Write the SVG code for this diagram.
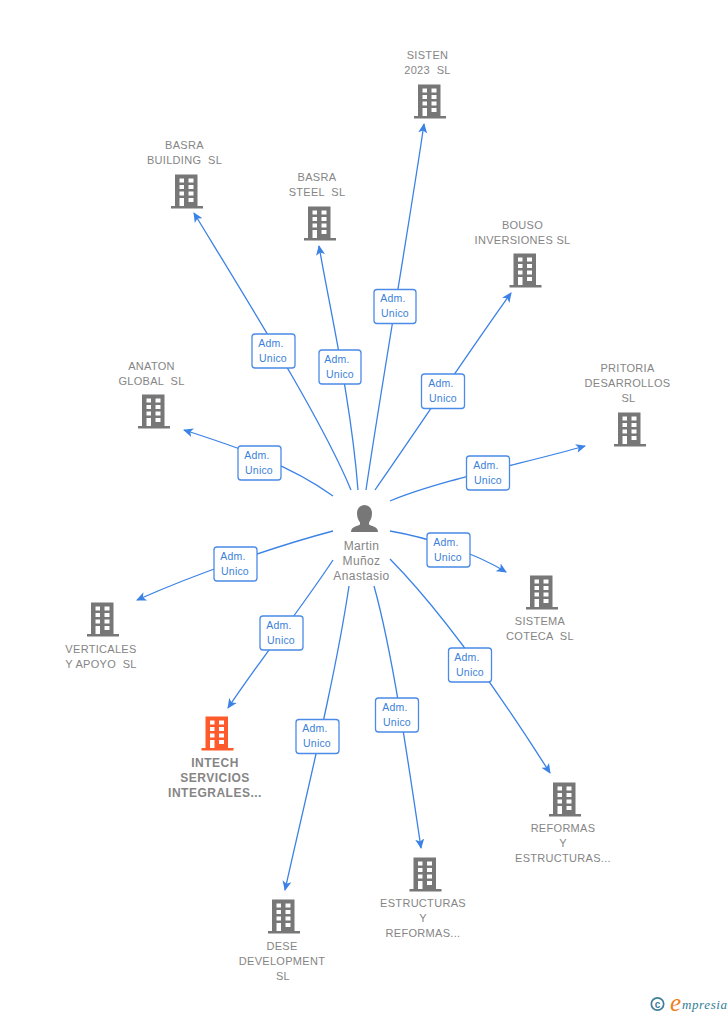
<svg xmlns="http://www.w3.org/2000/svg" width="728" height="1015" viewBox="0 0 728 1015">
<style>
text{font-family:"Liberation Sans",Arial,sans-serif;white-space:pre}
.n{font-size:11px;fill:#858585;text-anchor:middle;letter-spacing:.3px}
.b{font-weight:bold;font-size:12px;letter-spacing:.5px}
.p{font-size:12px;letter-spacing:.4px}
.c{fill:none;stroke:#3b82e6;stroke-width:1.3}
.a{fill:#3b82e6}
.l{fill:#fff;stroke:#4a8ae8;stroke-width:1.3}
.t{font-size:10.500px;fill:#3b7fd9;text-anchor:middle;letter-spacing:.2px}
</style>
<defs>
<symbol id="bld" viewBox="0 0 32 36" width="32" height="36" overflow="visible">
<path fill-rule="evenodd" fill="currentColor" d="M4 .5H26.500V32H32V34.500H0V32H4ZM8.500 4.500V8.500H13V4.500ZM17.500 4.500V8.500H22.500V4.500ZM8.500 11V15H13V11ZM17.500 11V15H22.500V11ZM8.500 17.500V21.500H13V17.500ZM17.500 17.500V21.500H22.500V17.500ZM8.500 24V32H13V24ZM17.500 24V28H22.500V24Z"/>
</symbol>
<marker id="ah" markerUnits="userSpaceOnUse" viewBox="0 0 10 10" refX="9" refY="5" markerWidth="10" markerHeight="10" orient="auto"><path class="a" d="M0 .5L10 5L0 9.500L2.500 5Z"/></marker>
</defs>
<g id="connectors">
<path class="c" marker-end="url(#ah)" d="M366 490C380 395 410 220 424 124"/>
<path class="c" marker-end="url(#ah)" d="M358 490C351 400 330 310 319 246"/>
<path class="c" marker-end="url(#ah)" d="M351 490C322 420 250 305 194 213"/>
<path class="c" marker-end="url(#ah)" d="M375 490C410 440 470 350 511 293"/>
<path class="c" marker-end="url(#ah)" d="M390 501C440 480 530 462 585 446"/>
<path class="c" marker-end="url(#ah)" d="M333 496C290 465 240 448 184 430"/>
<path class="c" marker-end="url(#ah)" d="M333 531C280 545 200 572 137 600"/>
<path class="c" marker-end="url(#ah)" d="M390 531C430 538 475 553 506 572"/>
<path class="c" marker-end="url(#ah)" d="M333 560C300 610 260 660 228 708"/>
<path class="c" marker-end="url(#ah)" d="M390 559C450 620 510 710 550 773"/>
<path class="c" marker-end="url(#ah)" d="M374 586C392 650 408 760 421 848"/>
<path class="c" marker-end="url(#ah)" d="M349 586C335 680 305 800 285 890"/>
</g>
<g id="label-sisten"><rect class="l" x="374" y="289.500" width="42" height="34" rx="3"/><text class="t" x="393" y="302">Adm.</text><text class="t" x="395" y="317">Unico</text></g>
<g id="label-basra-building"><rect class="l" x="252" y="334" width="43" height="34" rx="3"/><text class="t" x="271" y="347">Adm.</text><text class="t" x="273" y="362">Unico</text></g>
<g id="label-basra-steel"><rect class="l" x="319" y="350" width="42" height="34" rx="3"/><text class="t" x="337" y="363">Adm.</text><text class="t" x="340" y="378">Unico</text></g>
<g id="label-bouso"><rect class="l" x="421.500" y="374" width="43" height="34.500" rx="3"/><text class="t" x="441" y="387">Adm.</text><text class="t" x="443" y="402">Unico</text></g>
<g id="label-pritoria"><rect class="l" x="466.500" y="456" width="43" height="34" rx="3"/><text class="t" x="486" y="469">Adm.</text><text class="t" x="488" y="484">Unico</text></g>
<g id="label-anaton"><rect class="l" x="238" y="446" width="43" height="34" rx="3"/><text class="t" x="257" y="459">Adm.</text><text class="t" x="259" y="474">Unico</text></g>
<g id="label-verticales"><rect class="l" x="214" y="547" width="43" height="34" rx="3"/><text class="t" x="233" y="560">Adm.</text><text class="t" x="235" y="575">Unico</text></g>
<g id="label-sistema"><rect class="l" x="427" y="533" width="43" height="34" rx="3"/><text class="t" x="446" y="546">Adm.</text><text class="t" x="448" y="561">Unico</text></g>
<g id="label-intech"><rect class="l" x="260" y="616" width="43" height="34" rx="3"/><text class="t" x="279" y="629">Adm.</text><text class="t" x="281" y="644">Unico</text></g>
<g id="label-reformas"><rect class="l" x="448.500" y="648" width="43" height="34" rx="3"/><text class="t" x="467" y="661">Adm.</text><text class="t" x="470" y="676">Unico</text></g>
<g id="label-estructuras"><rect class="l" x="375.500" y="698" width="43" height="34" rx="3"/><text class="t" x="395" y="711">Adm.</text><text class="t" x="397" y="726">Unico</text></g>
<g id="label-dese"><rect class="l" x="296" y="719.500" width="43" height="34" rx="3"/><text class="t" x="315" y="732">Adm.</text><text class="t" x="317" y="747">Unico</text></g>
<g id="person"><path fill="#777" d="M364.500 505C369.500 505 372 509 372 513.500C372 517.500 370.500 520.500 369 522.500L369 524.500C372 526.500 378 526.500 378 532H351C351 526.500 357 526.500 360 524.500L360 522.500C358.500 520.500 357 517.500 357 513.500C357 509 359.500 505 364.500 505Z"/><text class="n p" x="361.500" y="550">Martin</text><text class="n p" x="361.500" y="565">Muñoz</text><text class="n p" x="361.500" y="580">Anastasio</text></g>
<g id="sisten" color="#777"><use href="#bld" x="414" y="84"/><text class="n" x="427.500" y="59">SISTEN</text><text class="n" x="427.500" y="74">2023  SL</text></g>
<g id="basra-building" color="#777"><use href="#bld" x="171" y="174"/><text class="n" x="184.500" y="149">BASRA</text><text class="n" x="184.500" y="164">BUILDING  SL</text></g>
<g id="basra-steel" color="#777"><use href="#bld" x="304" y="206"/><text class="n" x="317" y="181">BASRA</text><text class="n" x="317" y="196">STEEL  SL</text></g>
<g id="bouso" color="#777"><use href="#bld" x="509.500" y="253"/><text class="n" x="522.500" y="229">BOUSO</text><text class="n" x="522.500" y="244">INVERSIONES SL</text></g>
<g id="pritoria" color="#777"><use href="#bld" x="614" y="412"/><text class="n" x="627.500" y="372">PRITORIA</text><text class="n" x="627.500" y="387">DESARROLLOS</text><text class="n" x="628.500" y="402">SL</text></g>
<g id="anaton" color="#777"><use href="#bld" x="138" y="394"/><text class="n" x="151.500" y="370">ANATON</text><text class="n" x="151.500" y="385">GLOBAL  SL</text></g>
<g id="verticales" color="#777"><use href="#bld" x="87" y="602"/><text class="n" x="101" y="653">VERTICALES</text><text class="n" x="101" y="668">Y APOYO  SL</text></g>
<g id="sistema" color="#777"><use href="#bld" x="526" y="575"/><text class="n" x="540" y="625">SISTEMA</text><text class="n" x="540" y="640">COTECA  SL</text></g>
<g id="intech" color="#ff5a2c"><use href="#bld" x="201.500" y="716"/><text class="n b" x="215" y="767">INTECH</text><text class="n b" x="215" y="782">SERVICIOS</text><text class="n b" x="215" y="797">INTEGRALES...</text></g>
<g id="reformas" color="#777"><use href="#bld" x="549" y="782"/><text class="n" x="563" y="832">REFORMAS</text><text class="n" x="563" y="847">Y</text><text class="n" x="563" y="862">ESTRUCTURAS...</text></g>
<g id="estructuras" color="#777"><use href="#bld" x="409.500" y="857"/><text class="n" x="423" y="907">ESTRUCTURAS</text><text class="n" x="423" y="922">Y</text><text class="n" x="423" y="937">REFORMAS...</text></g>
<g id="dese" color="#777"><use href="#bld" x="268" y="899"/><text class="n" x="282" y="950">DESE</text><text class="n" x="282" y="965">DEVELOPMENT</text><text class="n" x="283" y="980">SL</text></g>
<g id="brand"><circle cx="657.500" cy="1004" r="6.200" fill="none" stroke="#3f7f99" stroke-width="1.700"/><text x="657.500" y="1007.500" font-size="10" font-weight="bold" fill="#3f7f99" text-anchor="middle">c</text><text x="670" y="1011" font-size="25" font-style="italic" fill="#f08020" style="font-family:'Liberation Serif',serif">e</text><text x="682" y="1009" font-size="13" font-style="italic" fill="#2f7d95" style="font-family:'Liberation Serif',serif" letter-spacing=".6">mpresia</text></g>
</svg>
